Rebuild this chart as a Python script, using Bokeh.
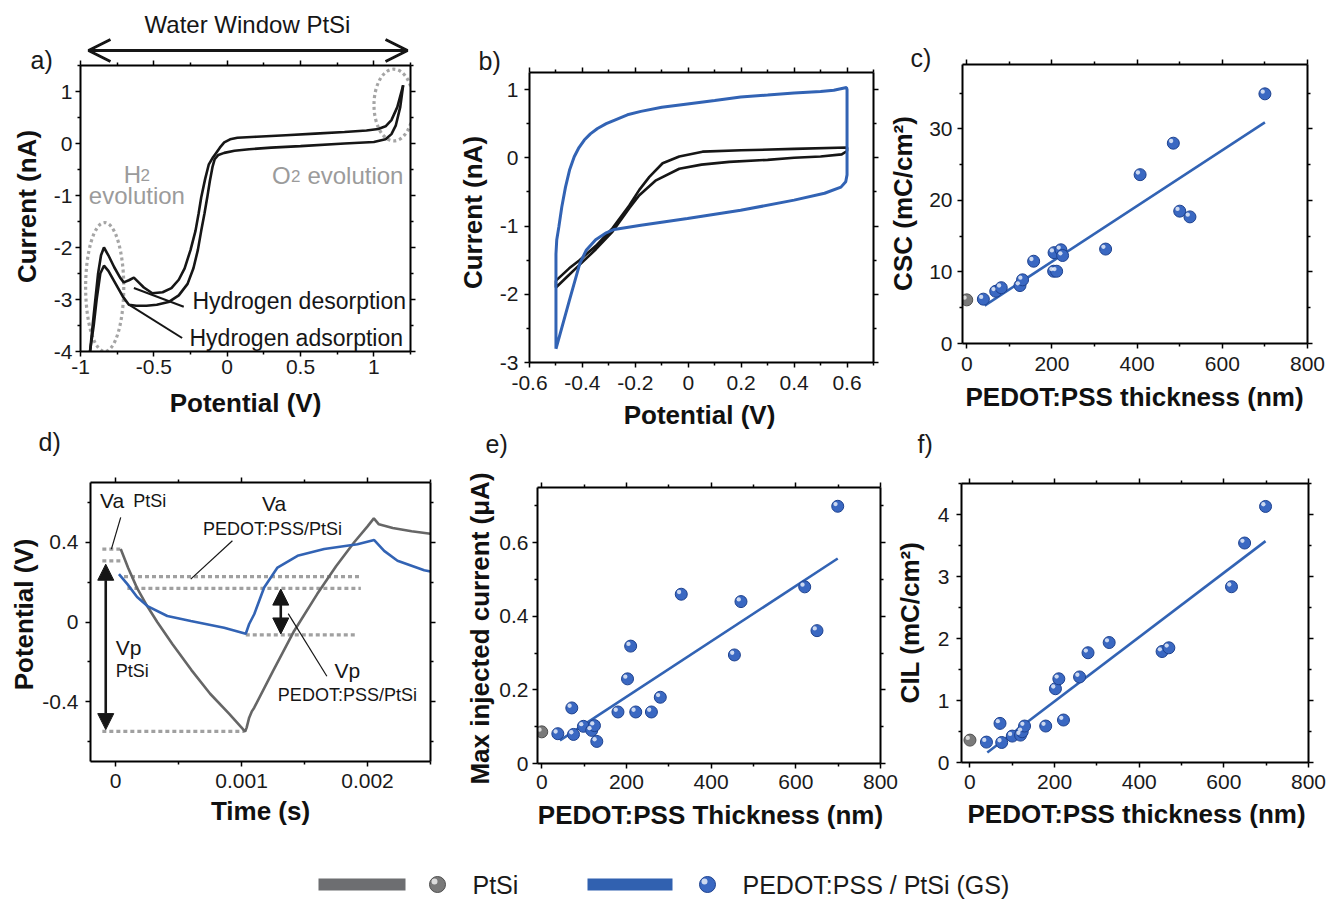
import numpy as np
from bokeh.plotting import figure
from bokeh.models import (Range1d, LinearAxis, FixedTicker, Label, Arrow,
                          NormalHead, OpenHead, CustomJSTickFormatter)
from bokeh.layouts import column, row
from bokeh.embed import file_html
from bokeh.resources import INLINE

FONT = "Liberation Sans"
BLUE = "#3263b4"
GRAY = "#666666"
BLACK = "#161616"
ANN_GRAY = "#9b9b9b"
SPH_BLUE, SPH_BLUE_EDGE = "#3a68c2", "#1e428f"
SPH_GRAY, SPH_GRAY_EDGE = "#7a7a7a", "#4f4f4f"

# ---------------- data ----------------
# a) PtSi CV, potential (V) / current (nA)
a_anodic_v = [-0.935, -0.91, -0.88, -0.86, -0.84, -0.81, -0.77, -0.73, -0.705, -0.67,
              -0.636, -0.60, -0.568, -0.51, -0.44, -0.38, -0.33, -0.29, -0.25, -0.216,
              -0.195, -0.177, -0.15, -0.125, -0.10, -0.08, -0.05, -0.02, 0.02, 0.07,
              0.2, 0.4, 0.6, 0.8, 0.95, 1.03, 1.08, 1.12, 1.16, 1.2]
a_anodic_i = [-4.0, -3.3, -2.5, -2.15, -2.0, -2.15, -2.38, -2.58, -2.67, -2.63,
              -2.58, -2.68, -2.77, -2.88, -2.86, -2.78, -2.62, -2.4, -2.05, -1.68,
              -1.35, -1.04, -0.68, -0.40, -0.28, -0.2, -0.08, 0.02, 0.08, 0.11,
              0.13, 0.16, 0.19, 0.22, 0.25, 0.28, 0.33, 0.45, 0.7, 1.12]
a_cath_v = [1.2, 1.18, 1.15, 1.12, 1.08, 1.0, 0.8, 0.5, 0.3, 0.15, 0.05, -0.02,
            -0.06, -0.085, -0.1, -0.118, -0.136, -0.155, -0.177, -0.2, -0.23, -0.27,
            -0.33, -0.4, -0.48, -0.55, -0.62, -0.67, -0.71, -0.76, -0.81, -0.84,
            -0.865, -0.89, -0.91, -0.935]
a_cath_i = [1.12, 0.7, 0.35, 0.18, 0.08, 0.03, 0.0, -0.05, -0.08, -0.11, -0.14, -0.18,
            -0.22, -0.3, -0.45, -0.72, -1.04, -1.35, -1.68, -2.05, -2.4, -2.7,
            -2.92, -3.05, -3.1, -3.12, -3.12, -3.1, -2.95, -2.7, -2.45, -2.35,
            -2.5, -3.0, -3.5, -4.0]

# b) CV PEDOT:PSS/PtSi (blue) and PtSi (black)
b_pedot_v = [-0.5, -0.5, -0.5, -0.497, -0.489, -0.478, -0.464, -0.448, -0.431, -0.413,
             -0.393, -0.37, -0.343, -0.31, -0.28, -0.23, -0.179, -0.1, -0.003, 0.1,
             0.198, 0.3, 0.4, 0.5, 0.55, 0.598, 0.6, 0.6, 0.595, 0.577, 0.515, 0.4,
             0.198, -0.003, -0.179, -0.28, -0.31, -0.35, -0.385, -0.41, -0.45, -0.5]
b_pedot_i = [-2.8, -2.0, -1.41, -1.2, -1.01, -0.72, -0.43, -0.17, 0.015, 0.15,
             0.26, 0.35, 0.43, 0.50, 0.55, 0.63, 0.68, 0.74, 0.79, 0.84,
             0.89, 0.92, 0.95, 0.97, 0.99, 1.03, 1.0, -0.25, -0.35, -0.43, -0.52, -0.62,
             -0.77, -0.89, -0.99, -1.05, -1.10, -1.20, -1.35, -1.55, -2.1, -2.8]
b_ptsi_v = [-0.5, -0.45, -0.411, -0.349, -0.286, -0.223, -0.185, -0.147, -0.097, -0.034,
            0.054, 0.2, 0.4, 0.6, 0.6, 0.58, 0.5, 0.4, 0.3, 0.155, 0.05, -0.034,
            -0.122, -0.185, -0.223, -0.286, -0.349, -0.411, -0.46, -0.5, -0.5]
b_ptsi_i = [-1.80, -1.62, -1.50, -1.29, -1.03, -0.70, -0.47, -0.28, -0.08, 0.02,
            0.09, 0.11, 0.13, 0.15, 0.10, 0.05, 0.02, 0.0, -0.03, -0.06, -0.10, -0.16,
            -0.33, -0.55, -0.74, -1.08, -1.34, -1.57, -1.75, -1.9, -1.80]

# c) CSC vs thickness
c_ptsi_thk, c_ptsi_csc = [0], [6.1]
c_thk = [39, 68, 81, 125, 131, 157, 204, 211, 205, 221, 225, 326, 407, 485, 500, 524, 700]
c_csc = [6.2, 7.3, 7.8, 8.1, 8.9, 11.5, 10.1, 10.1, 12.7, 13.1, 12.3, 13.2, 23.6, 28.0,
         18.5, 17.7, 34.9]
c_fit_thk, c_fit_csc = [42, 700], [5.3, 30.9]

# d) voltage transients, time (ms) / potential (V)
d_ptsi_t = [0.04, 0.1, 0.17, 0.25, 0.33, 0.45, 0.6, 0.75, 0.9, 1.0, 1.028, 1.04, 1.06,
            1.08, 1.1, 1.25, 1.417, 1.6, 1.75, 1.894, 2.0, 2.05, 2.07, 2.09, 2.2, 2.35, 2.5]
d_ptsi_v = [0.366, 0.27, 0.17, 0.08, 0.0, -0.11, -0.24, -0.36, -0.46, -0.53, -0.55, -0.53,
            -0.48, -0.45, -0.43, -0.245, -0.045, 0.14, 0.28, 0.40, 0.48, 0.52, 0.505, 0.49,
            0.472, 0.455, 0.443]
d_pedot_t = [0.026, 0.093, 0.17, 0.252, 0.41, 0.596, 0.861, 1.033, 1.06, 1.1, 1.179, 1.285,
             1.444, 1.656, 1.92, 2.053, 2.132, 2.238, 2.45, 2.5]
d_pedot_v = [0.24, 0.19, 0.125, 0.08, 0.03, 0.005, -0.029, -0.059, -0.01, 0.039, 0.173,
             0.273, 0.332, 0.366, 0.39, 0.411, 0.357, 0.307, 0.26, 0.253]
# reference levels (dotted): t_start, t_end, V
d_levels_t0 = [-0.106, -0.106, 0.066, 0.093, 1.033, -0.106]
d_levels_t1 = [0.053, 0.053, 1.947, 1.947, 1.92, 1.02]
d_levels_v = [0.366, 0.307, 0.228, 0.169, -0.065, -0.549]

# e) max injected current vs thickness
e_ptsi_thk, e_ptsi_cur = [0], [0.086]
e_thk = [38, 71, 75, 98.5, 118, 124.5, 130, 180, 202.6, 210, 222, 259, 280, 329.5, 455,
         470.5, 621, 650, 699]
e_cur = [0.081, 0.151, 0.079, 0.101, 0.090, 0.103, 0.060, 0.140, 0.230, 0.319, 0.140,
         0.140, 0.180, 0.460, 0.295, 0.440, 0.480, 0.361, 0.699]
e_fit_thk, e_fit_cur = [43, 699], [0.063, 0.557]

# f) CIL vs thickness
f_ptsi_thk, f_ptsi_cil = [0], [0.361]
f_thk = [39, 71, 75, 100, 119.5, 123.5, 129, 179, 202, 210, 221, 259, 279, 329, 454, 470,
         618, 649, 698.5]
f_cil = [0.329, 0.631, 0.323, 0.426, 0.442, 0.496, 0.588, 0.588, 1.19, 1.35, 0.685, 1.38,
         1.77, 1.935, 1.79, 1.85, 2.835, 3.54, 4.13]
f_fit_thk, f_fit_cil = [41, 698.5], [0.162, 3.57]

# ---------------- layout geometry (window pixels) ----------------
GEOM = {
    'a': dict(fig=(0, 0, 455, 438), frame=(80, 410, 65, 351), xr=(-1, 1.25), yr=(-4, 1.5)),
    'b': dict(fig=(455, 0, 445, 438), frame=(529, 873, 72, 362), xr=(-0.6, 0.7), yr=(-3, 1.25)),
    'c': dict(fig=(900, 0, 426, 438), frame=(962, 1307, 64, 343), xr=(-10, 800), yr=(0, 39)),
    'd': dict(fig=(0, 438, 455, 400), frame=(90, 430, 482, 761), xr=(-0.2, 2.5), yr=(-0.7, 0.7)),
    'e': dict(fig=(455, 438, 445, 400), frame=(537, 880, 487, 763), xr=(-10, 800), yr=(0, 0.75)),
    'f': dict(fig=(900, 438, 426, 400), frame=(961, 1308, 483, 762), xr=(-20, 800), yr=(0, 4.5)),
}


def make_fig(g):
    fx, fy, w, h = g['fig']
    l, r, t, b = g['frame']
    p = figure(width=w, height=h, x_range=Range1d(*g['xr']), y_range=Range1d(*g['yr']),
               toolbar_location=None, output_backend="svg",
               min_border_left=l - fx, min_border_right=fx + w - r,
               min_border_top=t - fy, min_border_bottom=fy + h - b)
    p.xgrid.visible = False
    p.ygrid.visible = False
    p.outline_line_color = None
    p.background_fill_color = "white"
    p.border_fill_color = "white"
    return p


NUMFMT = "var v = Math.round(tick*10000)/10000; return String(v);"


def setup_axes(p, xt, xm, yt, ym, xls, yls, xfmt=NUMFMT):
    xa, ya = p.xaxis[0], p.yaxis[0]
    xa.ticker = FixedTicker(ticks=xt, minor_ticks=xm)
    ya.ticker = FixedTicker(ticks=yt, minor_ticks=ym)
    xa.formatter = CustomJSTickFormatter(code=xfmt)
    ya.formatter = CustomJSTickFormatter(code=NUMFMT)
    xa.major_label_standoff = xls
    ya.major_label_standoff = yls
    top = LinearAxis(ticker=FixedTicker(ticks=xt, minor_ticks=xm),
                     formatter=CustomJSTickFormatter(code="return '';"))
    right = LinearAxis(ticker=FixedTicker(ticks=yt, minor_ticks=ym),
                       formatter=CustomJSTickFormatter(code="return '';"))
    for ax in (top, right):
        ax.major_label_text_font_size = "1px"
        ax.major_label_standoff = 0
    p.add_layout(top, "above")
    p.add_layout(right, "right")
    for ax in (xa, ya, top, right):
        ax.axis_line_width = 2
        ax.axis_line_color = "black"
        ax.major_tick_in = 0
        ax.major_tick_out = 5
        ax.minor_tick_in = 0
        ax.minor_tick_out = 3
        ax.major_tick_line_width = 1.5
        ax.minor_tick_line_width = 1.5
        ax.major_tick_line_color = "black"
        ax.minor_tick_line_color = "black"
        ax.major_label_text_font = FONT
    for ax in (xa, ya):
        ax.major_label_text_font_size = "21px"
        ax.major_label_text_color = "#1a1a1a"


def label(p, x, y, text, size=24, color=BLACK, align="left", baseline="middle",
          style="normal", angle=0):
    p.add_layout(Label(x=x, y=y, text=text, text_font=FONT, text_font_size=f"{size}px",
                       text_color=color, text_align=align, text_baseline=baseline,
                       text_font_style=style, angle=angle, angle_units="deg"))


def spheres(p, g, xs, ys, fill, edge, size=12):
    l, r, t, b = g['frame']
    dx = 2.2 * (g['xr'][1] - g['xr'][0]) / (r - l)
    dy = 2.2 * (g['yr'][1] - g['yr'][0]) / (b - t)
    p.scatter(xs, ys, size=size, fill_color=fill, line_color=edge, line_width=1)
    p.scatter(np.array(xs, float) - dx, np.array(ys, float) + dy, size=size * 0.36,
              fill_color="white", fill_alpha=0.75, line_color=None)


# ---------------- panel a ----------------
g = GEOM['a']
pa = make_fig(g)
setup_axes(pa, [-1, -0.5, 0, 0.5, 1], [-0.75, -0.25, 0.25, 0.75, 1.25],
           [-4, -3, -2, -1, 0, 1], [-3.5, -2.5, -1.5, -0.5, 0.5, 1.5], 3, 3)
pa.ellipse(x=[-0.835, 1.136], y=[-2.76, 0.74], width=[0.26, 0.27], height=[2.48, 1.38],
           fill_color=None, line_color="#a5a5a5", line_width=3.2, line_dash="3 3")
pa.line(a_anodic_v, a_anodic_i, line_color=BLACK, line_width=2.6)
pa.line(a_cath_v, a_cath_i, line_color=BLACK, line_width=2.6)
pa.segment(x0=[-0.636, -0.67], y0=[-2.78, -3.1], x1=[-0.296, -0.307], y1=[-3.14, -3.74],
           line_color=BLACK, line_width=2)
label(pa, -0.705, -0.60, "H", size=24, color=ANN_GRAY, baseline="alphabetic")
label(pa, -0.591, -0.60, "2", size=17, color=ANN_GRAY, baseline="alphabetic")
label(pa, -0.943, -1.0, "evolution", size=24, color=ANN_GRAY)
label(pa, 0.306, -0.62, "O", size=24, color=ANN_GRAY, baseline="alphabetic")
label(pa, 0.435, -0.62, "2", size=17, color=ANN_GRAY, baseline="alphabetic")
label(pa, 0.547, -0.62, "evolution", size=24, color=ANN_GRAY, baseline="alphabetic")

# ---------------- panel b ----------------
g = GEOM['b']
pb = make_fig(g)
setup_axes(pb, [-0.6, -0.4, -0.2, 0, 0.2, 0.4, 0.6], [-0.5, -0.3, -0.1, 0.1, 0.3, 0.5, 0.7],
           [-3, -2, -1, 0, 1], [-2.5, -1.5, -0.5, 0.5], 8, 6)
pb.line(b_ptsi_v, b_ptsi_i, line_color=BLACK, line_width=2.6)
pb.line(b_pedot_v, b_pedot_i, line_color=BLUE, line_width=3)

# ---------------- panel c ----------------
g = GEOM['c']
pc = make_fig(g)
setup_axes(pc, [0, 200, 400, 600, 800], [100, 300, 500, 700],
           [0, 10, 20, 30], [5, 15, 25, 35], 8, 5)
pc.line(c_fit_thk, c_fit_csc, line_color=BLUE, line_width=2.6)
spheres(pc, g, c_ptsi_thk, c_ptsi_csc, SPH_GRAY, SPH_GRAY_EDGE)
spheres(pc, g, c_thk, c_csc, SPH_BLUE, SPH_BLUE_EDGE)

# ---------------- panel d ----------------
g = GEOM['d']
pd_ = make_fig(g)
setup_axes(pd_, [0, 1, 2], [0.5, 1.5, 2.5], [-0.4, 0, 0.4], [-0.6, -0.2, 0.2, 0.6], 7, 7,
           xfmt="if (tick == 0) return '0'; return String(Math.round(tick)/1000);")
pd_.segment(x0=d_levels_t0, y0=d_levels_v, x1=d_levels_t1, y1=d_levels_v,
            line_color="#a0a0a0", line_width=3.2, line_dash="4 3")
pd_.line(d_ptsi_t, d_ptsi_v, line_color=GRAY, line_width=2.6)
pd_.line(d_pedot_t, d_pedot_v, line_color=BLUE, line_width=2.6)
pd_.segment(x0=[0.04, 0.927, 1.37], y0=[0.525, 0.408, 0.042],
            x1=[-0.034, 0.596, 1.677], y1=[0.366, 0.215, -0.272],
            line_color=BLACK, line_width=1.2)
for (xa_, y0_, y1_) in [(-0.079, 0.29, -0.54), (1.311, 0.165, -0.06)]:
    pd_.add_layout(Arrow(x_start=xa_, y_start=y0_, x_end=xa_, y_end=y1_, line_width=2.6,
                         line_color=BLACK,
                         start=NormalHead(size=16, fill_color=BLACK, line_color=BLACK),
                         end=NormalHead(size=16, fill_color=BLACK, line_color=BLACK)))
label(pd_, -0.125, 0.612, "Va", size=21)
label(pd_, 0.14, 0.605, "PtSi", size=18)
label(pd_, 1.258, 0.596, "Va", size=21, align="center")
label(pd_, 1.245, 0.466, "PEDOT:PSS/PtSi", size=18, align="center")
label(pd_, 0.0, -0.129, "Vp", size=21)
label(pd_, 0.0, -0.247, "PtSi", size=18)
label(pd_, 1.84, -0.243, "Vp", size=21, align="center")
label(pd_, 1.84, -0.364, "PEDOT:PSS/PtSi", size=18, align="center")

# ---------------- panel e ----------------
g = GEOM['e']
pe = make_fig(g)
setup_axes(pe, [0, 200, 400, 600, 800], [100, 300, 500, 700],
           [0, 0.2, 0.4, 0.6], [0.1, 0.3, 0.5, 0.7], 6, 4)
pe.line(e_fit_thk, e_fit_cur, line_color=BLUE, line_width=2.6)
spheres(pe, g, e_ptsi_thk, e_ptsi_cur, SPH_GRAY, SPH_GRAY_EDGE)
spheres(pe, g, e_thk, e_cur, SPH_BLUE, SPH_BLUE_EDGE)

# ---------------- panel f ----------------
g = GEOM['f']
pf = make_fig(g)
setup_axes(pf, [0, 200, 400, 600, 800], [100, 300, 500, 700],
           [0, 1, 2, 3, 4], [0.5, 1.5, 2.5, 3.5, 4.5], 7, 7)
pf.line(f_fit_thk, f_fit_cil, line_color=BLUE, line_width=2.6)
spheres(pf, g, f_ptsi_thk, f_ptsi_cil, SPH_GRAY, SPH_GRAY_EDGE)
spheres(pf, g, f_thk, f_cil, SPH_BLUE, SPH_BLUE_EDGE)

# ---------------- overlay: texts outside frames, axis titles, legend ----------------
OW, OH = 1326, 902
MAIN_H = 438 + 400
po = figure(width=OW, height=OH, x_range=Range1d(0, OW), y_range=Range1d(OH, 0),
            toolbar_location=None, output_backend="svg", x_axis_type=None,
            y_axis_type=None, min_border=0)
po.background_fill_color = None
po.border_fill_color = None
po.outline_line_color = None
po.margin = (-MAIN_H, 0, 0, 0)


def ol(px, py, text, size=24, **kw):
    label(po, px, py, text, size=size, **kw)


# panel letters
for txt, px, py in [("a)", 30, 59), ("b)", 478, 60), ("c)", 910, 57),
                    ("d)", 38, 441), ("e)", 485, 443), ("f)", 917, 443)]:
    ol(px, py, txt, size=25, color="#1a1a1a")

# axis titles
AX = dict(size=26, style="bold", color="#111111", align="center")
ol(245, 402, "Potential (V)", **AX)
ol(26, 206, "Current (nA)", angle=90, **AX)
ol(699, 414, "Potential (V)", **AX)
ol(472, 212, "Current (nA)", angle=90, **AX)
ol(1134, 396, "PEDOT:PSS thickness (nm)", **AX)
ol(902, 203, "CSC (mC/cm²)", angle=90, **AX)
ol(260, 810, "Time (s)", **AX)
ol(23, 614, "Potential (V)", angle=90, **AX)
ol(710, 814, "PEDOT:PSS Thickness (nm)", **AX)
ol(479, 628, "Max injected current (μA)", angle=90, **AX)
ol(1136, 813, "PEDOT:PSS thickness (nm)", **AX)
ol(909, 622, "CIL (mC/cm²)", angle=90, **AX)

# panel a extras
ol(247, 24, "Water Window PtSi", size=24, align="center")
po.add_layout(Arrow(x_start=88, y_start=50, x_end=407, y_end=50,
                    line_width=3, line_color=BLACK,
                    start=OpenHead(size=22, line_width=3, line_color=BLACK),
                    end=OpenHead(size=22, line_width=3, line_color=BLACK)))
ol(192, 300, "Hydrogen desorption", size=23)
ol(189, 337, "Hydrogen adsorption", size=23)

# legend
LY = 884
po.segment(x0=[318, 587], y0=[LY, LY], x1=[405, 672], y1=[LY, LY],
           line_color=["#6d6e71", "#3161b0"], line_width=12, line_cap="butt")
for cx, fill, edge in [(437, SPH_GRAY, SPH_GRAY_EDGE), (707, SPH_BLUE, SPH_BLUE_EDGE)]:
    po.scatter([cx], [LY], size=16, fill_color=fill, line_color=edge, line_width=1)
    po.scatter([cx - 3], [LY - 3], size=6, fill_color="white", fill_alpha=0.75,
               line_color=None)
ol(472, LY, "PtSi", size=25, color="#1a1a1a")
ol(742, LY, "PEDOT:PSS / PtSi (GS)", size=25, color="#1a1a1a")

layout = column(row(column(pa), column(pb), column(pc)),
                row(column(pd_), column(pe), column(pf)), po)
open("out.html", "w").write(file_html(layout, INLINE))
